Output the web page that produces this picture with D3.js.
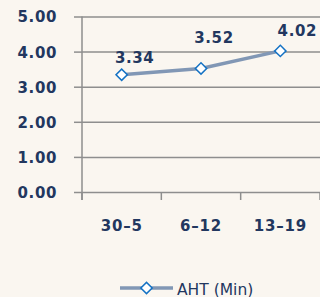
<!DOCTYPE html>
<html>
<head>
<meta charset="utf-8">
<script src="https://cdn.jsdelivr.net/npm/d3@7"></script>
<style>
  html, body { margin: 0; padding: 0; background: #faf6f0; }
  svg { display: block; }
</style>
</head>
<body>
<script>
const width = 320;
const height = 297;

const categories = ["30-5", "6-12", "13-19"];
const values = [3.34, 3.52, 4.02];
const yTicks = [0, 1, 2, 3, 4, 5];
const seriesName = "AHT (Min)";

const margin = { top: 16.5, right: 0, bottom: 105, left: 82 };

// label nudges (px) so labels sit like the original
const labelDx = [13, 13, 17];
const labelDy = [-12, -25, -15];

const navy = "#22375f";
const gridColor = "#8e8e8e";
const lineColor = "#8197b5";
const markerColor = "#1472c4";
const font = "DejaVu Sans";

const x = d3.scaleBand()
  .domain(categories)
  .range([margin.left, width - margin.right]);

const y = d3.scaleLinear()
  .domain([0, 5])
  .range([height - margin.bottom, margin.top]);

const svg = d3.select("body").append("svg")
  .attr("width", width)
  .attr("height", height);

svg.append("rect")
  .attr("width", width).attr("height", height)
  .attr("fill", "#faf6f0");

// grid + left ticks
const yAxis = g => g
  .attr("transform", `translate(${margin.left},0)`)
  .call(d3.axisLeft(y).tickValues(yTicks).tickFormat(d3.format(".2f"))
    .tickSize(8).tickPadding(17))
  .call(g => g.select(".domain").remove())
  .call(g => g.selectAll(".tick line").attr("stroke", gridColor).attr("stroke-width", 1.5))
  .call(g => g.selectAll(".tick").append("line")
    .attr("x2", width - margin.left)
    .attr("stroke", gridColor).attr("stroke-width", 1.5))
  .call(g => g.selectAll(".tick text")
    .attr("fill", navy)
    .attr("font-family", font)
    .attr("font-weight", "bold")
    .attr("font-size", 15)
    .attr("letter-spacing", 0.6)
    .attr("dy", "0.36em"));

svg.append("g").call(yAxis);

// vertical axis line
svg.append("line")
  .attr("x1", margin.left).attr("x2", margin.left)
  .attr("y1", y(5)).attr("y2", y(0) + 8)
  .attr("stroke", gridColor).attr("stroke-width", 1.5);

// bottom category ticks (between categories)
const bounds = categories.map(c => x(c)).concat([x(categories[categories.length - 1]) + x.bandwidth()]);
svg.append("g").selectAll("line")
  .data(bounds)
  .join("line")
  .attr("x1", d => d).attr("x2", d => d)
  .attr("y1", y(0)).attr("y2", y(0) + 8)
  .attr("stroke", gridColor).attr("stroke-width", 1.5);

// category labels
svg.append("g").selectAll("text")
  .data(categories)
  .join("text")
  .attr("x", d => x(d) + x.bandwidth() / 2)
  .attr("y", y(0) + 39)
  .attr("text-anchor", "middle")
  .attr("fill", navy)
  .attr("font-family", font)
  .attr("font-weight", "bold")
  .attr("font-size", 15)
  .attr("letter-spacing", 0.8)
  .text(d => d.replace("-", "\u2013"));

const pts = categories.map((c, i) => ({ c, v: values[i], i }));
const cx = d => x(d.c) + x.bandwidth() / 2;

// series line
svg.append("path")
  .datum(pts)
  .attr("fill", "none")
  .attr("stroke", lineColor)
  .attr("stroke-width", 3.5)
  .attr("d", d3.line().x(cx).y(d => y(d.v)));

svg.append("g").selectAll("path")
  .data(pts)
  .join("path")
  .attr("transform", d => `translate(${cx(d)},${y(d.v)}) rotate(45)`)
  .attr("d", d3.symbol().type(d3.symbolSquare).size(64))
  .attr("fill", "#fff")
  .attr("stroke", markerColor)
  .attr("stroke-width", 1.5);

// data labels
svg.append("g").selectAll("text")
  .data(pts)
  .join("text")
  .attr("x", d => cx(d) + labelDx[d.i])
  .attr("y", d => y(d.v) + labelDy[d.i])
  .attr("text-anchor", "middle")
  .attr("fill", navy)
  .attr("font-family", font)
  .attr("font-weight", "bold")
  .attr("font-size", 15)
  .attr("letter-spacing", 0.6)
  .text(d => d3.format(".2f")(d.v));

// legend
const lg = svg.append("g").attr("transform", "translate(120,288)");
lg.append("line")
  .attr("x1", 0).attr("x2", 53)
  .attr("stroke", lineColor).attr("stroke-width", 3.5);
lg.append("path")
  .attr("transform", "translate(26.5,0) rotate(45)")
  .attr("d", d3.symbol().type(d3.symbolSquare).size(64))
  .attr("fill", "#fff")
  .attr("stroke", markerColor)
  .attr("stroke-width", 1.5);
lg.append("text")
  .attr("x", 57)
  .attr("y", 6.5)
  .attr("fill", navy)
  .attr("font-family", font)
  .attr("font-size", 15.5)
  .text(seriesName);
</script>
</body>
</html>
